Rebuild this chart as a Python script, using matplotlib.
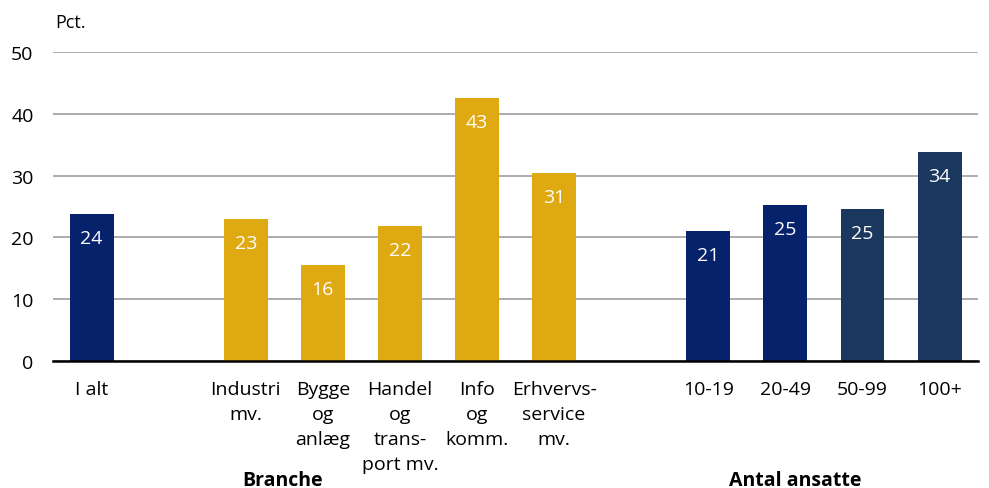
import matplotlib
matplotlib.use('Agg')
import matplotlib.pyplot as plt
import numpy as np

plt.rcParams['font.family'] = ['Open Sans', 'DejaVu Sans']

NAVY = '#06226a'
NAVY2 = '#1a375e'
GOLD = '#dfa912'
GRID = '#a6a6a6'

labels = ['I alt', 'Industri\nmv.', 'Bygge\nog\nanlæg', 'Handel\nog\ntrans-\nport mv.',
          'Info\nog\nkomm.', 'Erhvervs-\nservice\nmv.', '10-19', '20-49', '50-99', '100+']
positions = [0, 2, 3, 4, 5, 6, 8, 9, 10, 11]
values = [23.8, 23.0, 15.6, 21.9, 42.6, 30.5, 21.0, 25.3, 24.6, 33.8]
shown = ['24', '23', '16', '22', '43', '31', '21', '25', '25', '34']
colors = [NAVY, GOLD, GOLD, GOLD, GOLD, GOLD, NAVY, NAVY, NAVY2, NAVY2]

groups = ['Branche', 'Antal ansatte']
group_x = [2.48, 9.13]

fig = plt.figure(figsize=(9.89, 4.89), dpi=100)
ax = fig.add_axes([0.0536, 0.2597, 0.9354, 0.6319])

ax.bar(positions, values, width=0.57, color=colors, zorder=3)
for x, v, s in zip(positions, values, shown):
    ax.text(x, v - 3.9, s, ha='center', va='center', color='white', fontsize=14, zorder=4)

ax.set_xlim(-0.5, 11.5)
ax.set_ylim(0, 50)
ax.set_yticks(np.arange(0, 51, 10))
ax.yaxis.grid(True, color=GRID, linewidth=1.3, zorder=0)
ax.set_axisbelow(True)
for side in ['top', 'right', 'left']:
    ax.spines[side].set_visible(False)
ax.spines['bottom'].set_linewidth(1.8)
ax.spines['bottom'].set_zorder(5)
ax.tick_params(axis='both', length=0, labelsize=14)
ax.tick_params(axis='y', pad=14)
ax.tick_params(axis='x', pad=14)
ax.set_xticks(positions)
ax.set_xticklabels(labels, linespacing=1.5, va='top')

for g, gx in zip(groups, group_x):
    ax.text(gx, -19.2, g, ha='center', va='center', fontsize=14, fontweight='bold')

fig.text(0.0556, 0.952, 'Pct.', ha='left', va='center', fontsize=13)

fig.savefig('out.png', dpi=100)
